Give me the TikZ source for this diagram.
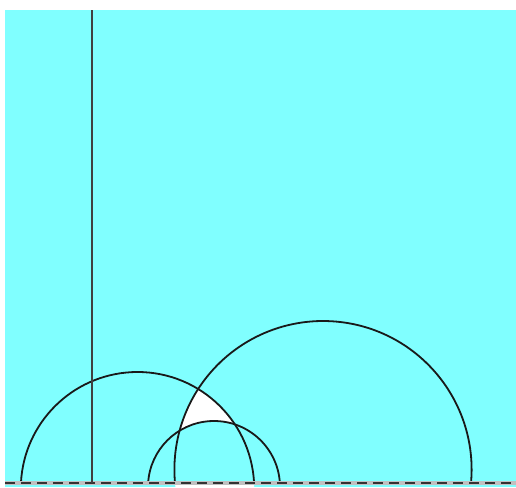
\documentclass[tikz,border=0pt]{standalone}
\usetikzlibrary{calc}
\definecolor{sky}{HTML}{80FFFF}
\definecolor{axisgray}{HTML}{404040}
\definecolor{basegray}{HTML}{C0C0C0}
\tikzset{geod/.style={line width=1.8pt,black!90}}
\begin{document}
\begin{tikzpicture}[x=1pt,y=1pt]
\useasboundingbox (0,0) rectangle (516,487);
\fill[sky] (5,0) rectangle (516,477);

% centres of the three arcs
\coordinate (cA) at (137.5,-1.7);
\coordinate (cB) at (323,17.4);
\coordinate (cC) at (214,0);

% white triangle
\begin{scope}
\clip (cA) circle[radius=116.7];
\clip (cB) circle[radius=148.6];
\fill[white,even odd rule] (0,4.5) rectangle (516,487) (cC) circle[radius=66];
\end{scope}

\draw[geod] (cA) ++(3.05:116.7) arc[start angle=3.05,end angle=176.95,radius=116.7];
\draw[geod] (cB) ++(-4.98:148.6) arc[start angle=-4.98,end angle=184.98,radius=148.6];
\draw[geod] (cC) ++(3.9:66) arc[start angle=3.9,end angle=176.1,radius=66];

% boundary line and vertical line
\draw[basegray,line width=4pt] (5,4.5) -- (516,4.5);
\draw[black!80,line width=2pt,dash pattern=on 10pt off 6pt] (5,4.5) -- (516,4.5);
\draw[axisgray,line width=2pt] (91.5,4.5) -- (91.5,477);
\end{tikzpicture}
\end{document}
